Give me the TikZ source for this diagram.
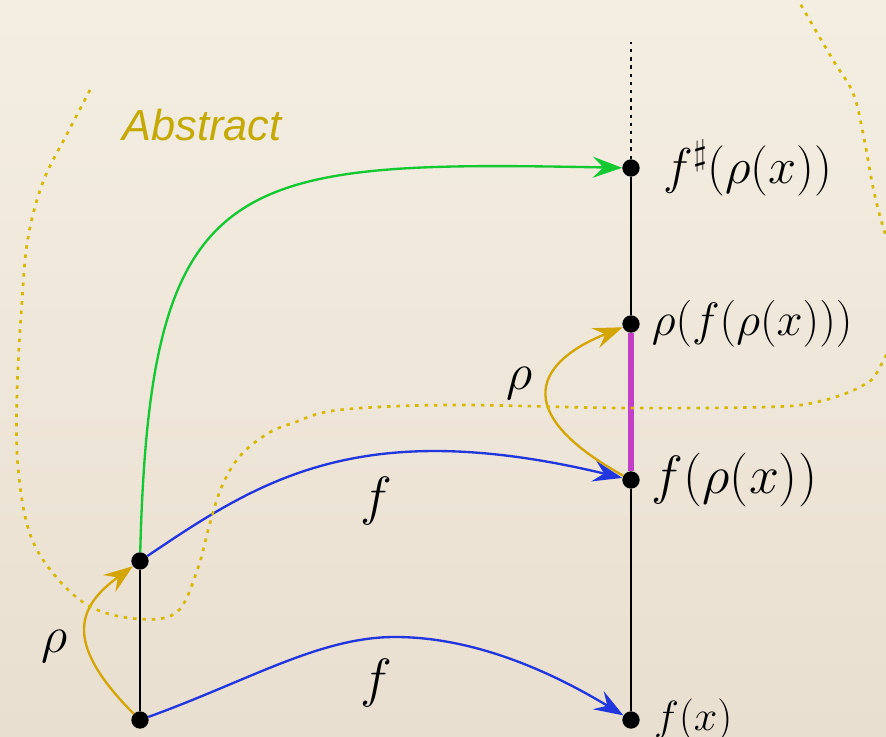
\RequirePackage{fix-cm}
\documentclass[tikz,border=0pt]{standalone}
\usepackage{fontspec}
\usepackage{tikz}
\usetikzlibrary{arrows.meta,positioning,calc}
\newfontfamily\abstractfont{Liberation Sans}
\definecolor{paperlight}{HTML}{F4EEE2}
\definecolor{paperdark}{HTML}{E9DFD0}
\definecolor{mapblue}{HTML}{2236DE}
\definecolor{sharpgreen}{HTML}{14C832}
\definecolor{rhogold}{HTML}{D4A506}
\definecolor{abstractyellow}{HTML}{D6B906}
\definecolor{hullmagenta}{HTML}{C43FC8}
\newcommand{\lblsize}[1]{\fontsize{#1}{#1}\selectfont}

\begin{document}
\begin{tikzpicture}[x=0.03cm,y=-0.03cm,
  dot/.style={circle,fill=black,inner sep=0pt,minimum size=0.52cm},
  lbl/.style={inner sep=0pt,font=\lblsize{40}},
  arrow/.style={-{Stealth[length=25pt,width=18pt,inset=9pt]},line width=2pt},
  fmap/.style={arrow,color=mapblue},
  rhomap/.style={arrow,color=rhogold},
  sharpmap/.style={arrow,color=sharpgreen},
  chain/.style={line width=1.7pt,black},
  abstr/.style={line width=2.3pt,color=abstractyellow,dash pattern=on 3pt off 5pt}
]
  \useasboundingbox (0,0) rectangle (886,737);
  \clip (0,0) rectangle (886,737);
  \fill[top color=paperlight,bottom color=paperdark] (0,0) rectangle (886,737);

  % points of the two lattices
  \node[dot] (x) at (140,720) {};
  \node[dot] (rx) at (140,561) {};
  \node[dot] (fx) at (631,720) {};
  \node[dot] (frx) at (631,480) {};
  \node[dot] (rfrx) at (631,324) {};
  \node[dot] (fsrx) at (631,168) {};
  \coordinate (top) at (631,42);

  % orderings
  \draw[chain] (x) -- (rx);
  \draw[chain] (fx) -- (frx);
  \draw[chain] (rfrx) -- (fsrx);
  \draw[chain,dash pattern=on 3pt off 4pt] (fsrx) -- (top);
  \draw[line width=4.5pt,hullmagenta] (frx) -- (rfrx);

  % maps
  \draw[fmap] (x) .. controls (250,680) and (320,637) .. (395,637)
              .. controls (470,637) and (545,668) .. (fx);
  \draw[fmap] (rx) .. controls (260,480) and (360,415) .. (frx);
  \draw[sharpmap] (rx) .. controls (150,170) and (230,160) .. (fsrx);
  \draw[rhomap] (x) .. controls (60,640) and (80,605) .. (rx);
  \draw[rhomap] (frx) .. controls (505,410) and (540,360) .. (rfrx);

  % abstract domain
  \draw[abstr] plot[smooth,tension=0.6] coordinates {(90,90) (67,134) (43,182)
    (28,238) (22,301) (17,393) (18,467) (30,534) (57,578) (93,608) (140,619)
    (177,612) (197,571) (210,523) (222,486) (240,456) (267,434) (293,423)
    (339,410) (452,405) (621,408) (767,407) (817,402) (860,387) (880,367)
    (905,300) (883,227) (873,187) (863,133) (853,93) (833,60) (805,12) (790,-15)};
  \node[font=\abstractfont\itshape\lblsize{37},text=abstractyellow!92!black,inner sep=0pt]
    (abs) at (202,125) {Abstract};

  % labels
  \node[lbl,font=\lblsize{36},right=12pt of fx] (fxl) {$f(x)$};
  \node[lbl,font=\lblsize{46},right=10pt of frx] (frxl) {$f(\rho(x))$};
  \node[lbl,font=\lblsize{40},right=10pt of rfrx] (rfrxl) {$\rho(f(\rho(x)))$};
  \node[lbl,font=\lblsize{43},right=20pt of fsrx] (fsrxl) {$f^{\sharp}(\rho(x))$};
  \node[lbl,font=\lblsize{46}] (f1) at (376,501) {$f$};
  \node[lbl,font=\lblsize{46}] (f2) at (376,683) {$f$};
  \node[lbl,font=\lblsize{44}] (r1) at (55,646) {$\rho$};
  \node[lbl,font=\lblsize{44}] (r2) at (520,383) {$\rho$};
\end{tikzpicture}
\end{document}
